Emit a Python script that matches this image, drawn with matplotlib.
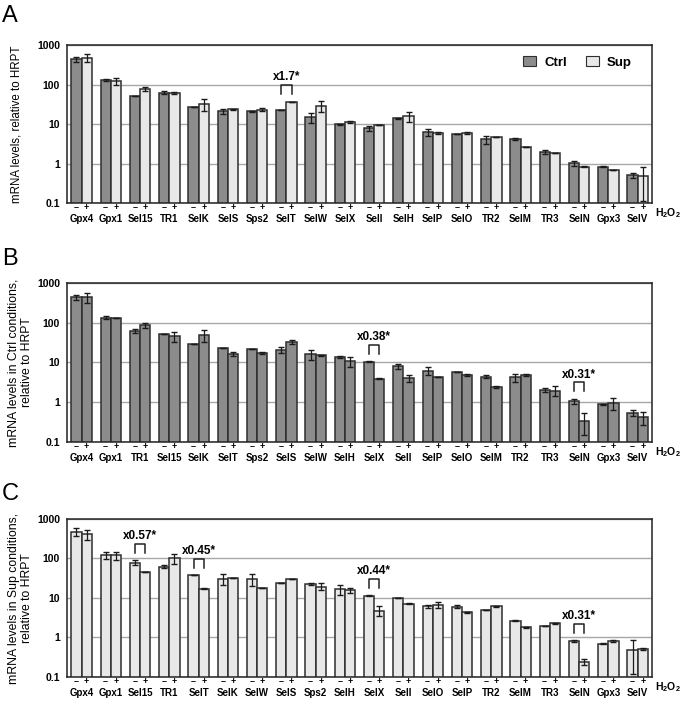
import numpy as np
import matplotlib.pyplot as plt
from matplotlib.patches import Patch

plt.rcParams['font.family'] = ['Liberation Sans', 'DejaVu Sans']
plt.rcParams['font.weight'] = 'bold'
plt.rcParams['mathtext.fontset'] = 'custom'
plt.rcParams['mathtext.rm'] = 'Liberation Sans:bold'
plt.rcParams['mathtext.bf'] = 'Liberation Sans:bold'

# Panel A: Ctrl vs Sup
genes_a = ["Gpx4", "Gpx1", "Sel15", "TR1", "SelK", "SelS", "Sps2", "SelT", "SelW", "SelX",
           "SelI", "SelH", "SelP", "SelO", "TR2", "SelM", "TR3", "SelN", "Gpx3", "SelV"]
a_ctrl = [434, 130, 51.5, 62.5, 27.7, 21, 21, 22.8, 14.9, 9.9,
          7.85, 14, 6.2, 5.65, 4.1, 4.2, 1.98, 1.03, 0.84, 0.51]
a_ctrl_err = [70, 10, 0, 6, 0, 3, 0.5, 0.5, 4, 0.3,
              1.3, 0.5, 1.3, 0, 1.0, 0.35, 0.2, 0.15, 0.03, 0.08]
a_sup = [480, 124, 76, 61, 32.3, 23.7, 22.8, 37, 29.3, 11.1,
         9.5, 16, 5.9, 5.9, 4.8, 2.6, 1.8, 0.83, 0.68, 0.47]
a_sup_err = [100, 26, 9, 3, 11, 1, 2, 0, 9, 0.5,
             0.1, 4.5, 0.3, 0.4, 0, 0, 0, 0.03, 0, 0.36]
notes_a = [("SelT", "x1.7*")]

# Panel B: Ctrl conditions, -/+ H2O2
genes_b = ["Gpx4", "Gpx1", "TR1", "Sel15", "SelK", "SelT", "Sps2", "SelS", "SelW", "SelH",
           "SelX", "SelI", "SelP", "SelO", "SelM", "TR2", "TR3", "SelN", "Gpx3", "SelV"]
b_minus = [435, 134, 63, 51, 28.5, 23, 21.7, 21, 16.2, 13.6,
           10.4, 8.1, 6.2, 5.8, 4.4, 4.27, 2.05, 1.06, 0.89, 0.53]
b_minus_err = [60, 12, 8, 0, 0, 0.5, 0.5, 3.3, 4.6, 0.7,
               0.3, 1.1, 1.5, 0, 0.4, 1.0, 0.2, 0.15, 0.02, 0.09]
b_plus = [435, 135, 86, 45, 48, 16, 17.5, 33, 15, 10.6,
          3.9, 4.0, 4.35, 4.8, 2.44, 4.8, 1.97, 0.34, 0.94, 0.42]
b_plus_err = [125, 0, 11, 12, 16, 1.8, 1.3, 3.5, 0.7, 3,
              0.1, 0.8, 0, 0.3, 0.18, 0.3, 0.55, 0.19, 0.3, 0.16]
notes_b = [("SelX", "x0.38*"), ("SelN", "x0.31*")]

# Panel C: Sup conditions, -/+ H2O2
genes_c = ["Gpx4", "Gpx1", "Sel15", "TR1", "SelT", "SelK", "SelW", "SelS", "Sps2", "SelH",
           "SelX", "SelI", "SelO", "SelP", "TR2", "SelM", "TR3", "SelN", "Gpx3", "SelV"]
c_minus = [480, 124, 79, 62.5, 37.8, 31, 30, 24, 22.8, 16.7,
           11.3, 9.9, 6.2, 6.0, 4.9, 2.65, 1.9, 0.81, 0.7, 0.48]
c_minus_err = [110, 25, 11, 4, 0, 10, 9.5, 0.5, 1, 4.8,
               0.4, 0.1, 0.6, 0.5, 0, 0.05, 0, 0.03, 0.03, 0.36]
c_plus = [410, 121, 45, 101, 17, 32, 17.4, 30, 19.5, 15.5,
          4.8, 7.1, 6.6, 4.3, 6.1, 1.8, 2.3, 0.244, 0.81, 0.5]
c_plus_err = [115, 28, 0, 27, 0.5, 0, 0, 0.5, 4, 1.9,
              1.3, 0.2, 1.1, 0.1, 0.3, 0.08, 0.05, 0.04, 0.06, 0.03]
notes_c = [("Sel15", "x0.57*"), ("SelT", "x0.45*"), ("SelX", "x0.44*"), ("SelN", "x0.31*")]

DARK = "#8c8c8c"
LIGHT = "#e8e8e8"
EDGE = "#2e2e2e"
BW = 0.35


def draw_panel(ax, genes, v1, e1, v2, e2, c1, c2, ylabel, label_x, label_size, notes):
    x = np.arange(len(genes))
    v1, e1, v2, e2 = map(np.asarray, (v1, e1, v2, e2))
    ax.bar(x - BW / 2, v1, BW, color=c1, edgecolor=EDGE, linewidth=1.1, zorder=2)
    ax.bar(x + BW / 2, v2, BW, color=c2, edgecolor=EDGE, linewidth=1.1, zorder=2)
    ax.errorbar(x - BW / 2, v1, yerr=e1, fmt="none", ecolor="#1a1a1a",
                elinewidth=0.9, capsize=2.3, capthick=1.0, zorder=3)
    ax.errorbar(x + BW / 2, v2, yerr=e2, fmt="none", ecolor="#1a1a1a",
                elinewidth=0.9, capsize=2.3, capthick=1.0, zorder=3)

    ax.set_yscale("log")
    ax.set_ylim(0.1, 1000)
    ax.set_xlim(-0.5, len(genes) - 0.5)
    ax.set_yticks([0.1, 1, 10, 100, 1000])
    ax.set_yticklabels(["0.1", "1", "10", "100", "1000"])
    ax.yaxis.set_minor_locator(plt.NullLocator())
    ax.tick_params(axis="y", length=0, labelsize=7.5, pad=5)
    ax.grid(axis="y", which="major", color="#a8a8a8", linewidth=1.0, zorder=0)
    ax.set_axisbelow(True)

    # gene names on major ticks, -/+ on minor ticks
    ax.set_xticks(x)
    ax.set_xticklabels(genes)
    ax.set_xticks(np.concatenate([x - BW / 2, x + BW / 2]), minor=True)
    ax.set_xticklabels(["\u2013"] * len(genes) + ["+"] * len(genes), minor=True)
    ax.tick_params(axis="x", which="major", length=0, labelsize=7, pad=7.6)
    ax.tick_params(axis="x", which="minor", length=0, labelsize=6.5, pad=0.2)

    for s in ax.spines.values():
        s.set_color("#222222")
        s.set_linewidth(1.1)

    ax.set_ylabel(ylabel, fontsize=label_size, linespacing=1.15)
    ax.yaxis.set_label_coords(label_x, 0.5)
    ax.text(1.005, -0.062, r"H$_2$O$_2$", transform=ax.transAxes,
            ha="left", va="center", fontsize=7.5)

    for gene, label in notes:
        i = genes.index(gene)
        top = max(v1[i] + e1[i], v2[i] + e2[i])
        lo = top * 1.55
        hi = lo * 1.7
        ax.plot([i - BW / 2, i - BW / 2, i + BW / 2, i + BW / 2], [lo, hi, hi, lo],
                color="#222222", linewidth=1.1, zorder=3)
        ax.text(i, hi * 1.1, label, ha="center", va="bottom", fontsize=8.5)


fig = plt.figure(figsize=(6.83, 7.04), dpi=100)
ax_a = fig.add_axes([0.098, 0.7116, 0.857, 0.2244])
ax_b = fig.add_axes([0.098, 0.3722, 0.857, 0.2259])
ax_c = fig.add_axes([0.098, 0.0384, 0.857, 0.2244])

draw_panel(ax_a, genes_a, a_ctrl, a_ctrl_err, a_sup, a_sup_err, DARK, LIGHT,
           "mRNA levels, relative to HRPT", -0.076, 8.3, notes_a)
draw_panel(ax_b, genes_b, b_minus, b_minus_err, b_plus, b_plus_err, DARK, DARK,
           "mRNA levels in Ctrl conditions,\nrelative to HRPT", -0.058, 8.8, notes_b)
draw_panel(ax_c, genes_c, c_minus, c_minus_err, c_plus, c_plus_err, LIGHT, LIGHT,
           "mRNA levels in Sup conditions,\nrelative to HRPT", -0.058, 8.8, notes_c)

handles = [Patch(facecolor=DARK, edgecolor=EDGE, linewidth=0.8),
           Patch(facecolor=LIGHT, edgecolor=EDGE, linewidth=0.8)]
ax_a.legend(handles, ["Ctrl", "Sup"], loc="center right", bbox_to_anchor=(0.985, 0.89),
            ncol=2, frameon=False, fontsize=9.5, handlelength=1.0, handleheight=0.7,
            columnspacing=1.4, handletextpad=0.6)

for y, letter in [(0.969, "A"), (0.6236, "B"), (0.2898, "C")]:
    fig.text(0.003, y, letter, fontsize=17, fontweight="normal", va="baseline", ha="left")

fig.savefig("out.png", dpi=100)
